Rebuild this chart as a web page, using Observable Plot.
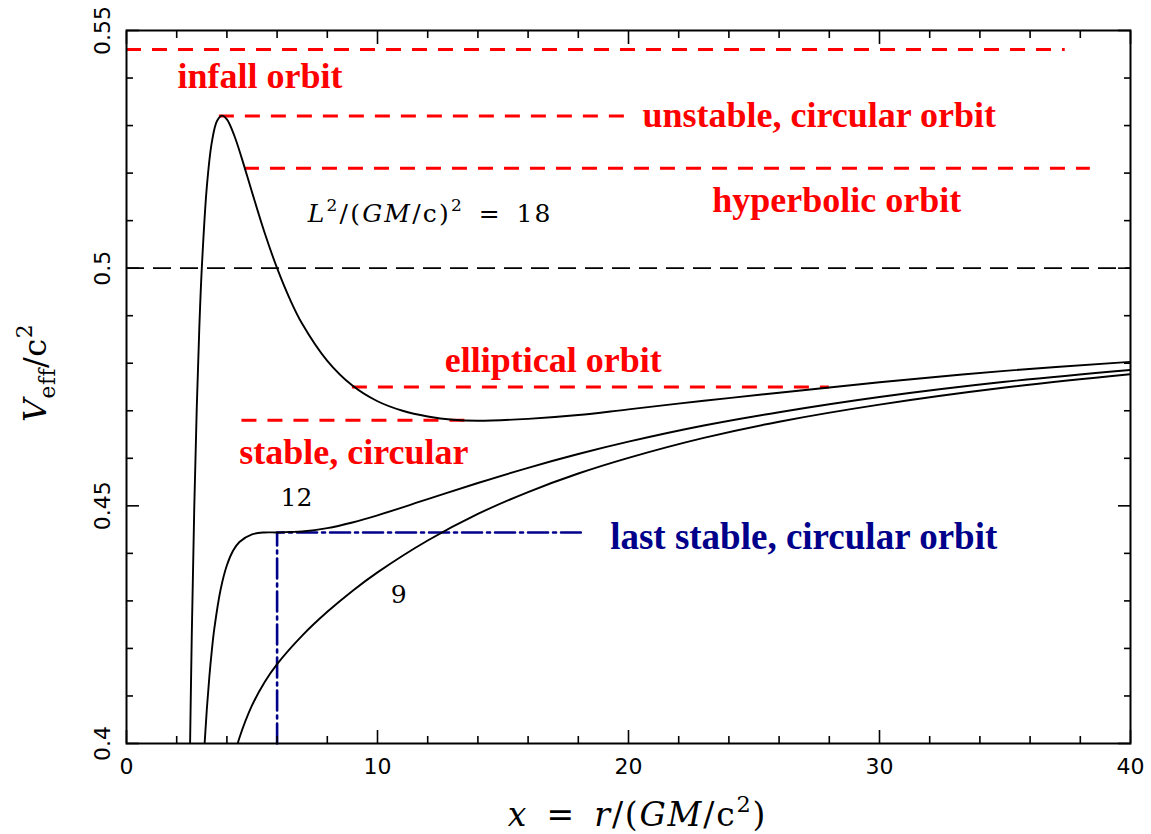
<!DOCTYPE html>
<html>
<head>
<meta charset="utf-8">
<script src="https://cdn.jsdelivr.net/npm/d3@7"></script>
<script src="https://cdn.jsdelivr.net/npm/@observablehq/plot@0.6"></script>
<style>
  body { margin: 0; background: #fff; }
  text { white-space: pre; }
</style>
</head>
<body>
<div id="chart"></div>
<script>
// ---- Effective potential curves ----
const x18 = [2.5, 2.6, 2.7, 2.8, 2.9, 3.0, 3.2, 3.4, 3.6, 3.8, 4.0, 4.3, 4.6, 5.0, 5.5, 6.0, 6.5, 7, 8, 9, 10, 11, 12, 13, 14, 16, 18, 20, 23, 26, 30, 35, 40];
const v18 = [0.388, 0.4226, 0.4497, 0.4708, 0.4873, 0.5000, 0.5171, 0.5265, 0.5309, 0.5321, 0.5313, 0.5278, 0.5230, 0.5160, 0.5075, 0.5000, 0.4936, 0.4883, 0.4805, 0.4753, 0.4720, 0.4700, 0.4688, 0.4681, 0.4679, 0.4683, 0.4691, 0.4703, 0.4721, 0.4738, 0.4760, 0.4784, 0.4803];

const x12 = [3.0, 3.1, 3.2, 3.3, 3.4, 3.5, 3.75, 4.0, 4.25, 4.5, 5.0, 5.5, 6.0, 6.5, 7, 8, 9, 10, 12, 14, 16, 18, 20, 23, 26, 30, 35, 40];
const v12 = [0.3889, 0.3990, 0.4072, 0.4140, 0.4196, 0.4242, 0.4324, 0.4375, 0.4406, 0.4424, 0.4440, 0.4444, 0.4444, 0.4445, 0.4446, 0.4453, 0.4465, 0.4480, 0.4514, 0.4548, 0.4580, 0.4609, 0.4635, 0.4669, 0.4697, 0.4729, 0.4761, 0.4786];

const x9 = [4.2, 4.5, 5, 5.5, 6, 7, 8, 9, 10, 12, 14, 16, 18, 20, 23, 26, 30, 35, 40];
const v9 = [0.3955, 0.4012, 0.4080, 0.4129, 0.4167, 0.4227, 0.4277, 0.4321, 0.4360, 0.4427, 0.4483, 0.4529, 0.4568, 0.4601, 0.4643, 0.4677, 0.4713, 0.4749, 0.4777];

// ---- Orbit energy levels (red dashed) ----
const levelNames = ["infall", "unstable circular", "hyperbolic", "elliptical", "stable circular"];
const levelV  = [0.546, 0.532, 0.521, 0.475, 0.468];
const levelX1 = [0, 3.7, 4.7, 9.0, 4.6];
const levelX2 = [37.4, 20.0, 38.4, 28.0, 13.9];

// rest-mass level (black dashed)
const restV = [0.5];

// last stable circular orbit (blue dash-dot)
const lscoX = [6, 6, 18.1];
const lscoV = [0.4, 0.4444, 0.4444];

// ---- Labels ----
const redText = ["infall orbit", "unstable, circular orbit", "hyperbolic orbit", "elliptical orbit", "stable, circular"];
const redX = [5.32, 27.6, 28.3, 17.0, 9.06];
const redV = [0.5380, 0.5298, 0.5118, 0.4781, 0.4588];

const blueText = ["last stable, circular orbit"];
const blueX = [26.98];
const blueV = [0.4410];

const curveText = ["L²/(GM/c)² = 18", "12", "9"];
const curveX = [12.1, 6.77, 10.84];
const curveV = [0.5098, 0.4499, 0.4295];

// ---- Ticks ----
const xMajor = [0, 10, 20, 30, 40];
const xMinor = [2, 4, 6, 8, 12, 14, 16, 18, 22, 24, 26, 28, 32, 34, 36, 38];
const yMajor = [0.4, 0.45, 0.5, 0.55];
const yMinor = [0.41, 0.42, 0.43, 0.44, 0.46, 0.47, 0.48, 0.49, 0.51, 0.52, 0.53, 0.54];
const yMajorLabels = ["0.4", "0.45", "0.5", "0.55"];

const xLabel = "x = r/(GM/c²)";
const yLabel = "Veff/c²";

// ---- Tables built from the arrays ----
const curves = [
  ...x18.map((x, i) => ({x, v: v18[i], L: "18"})),
  ...x12.map((x, i) => ({x, v: v12[i], L: "12"})),
  ...x9.map((x, i) => ({x, v: v9[i], L: "9"}))
];
const levels = levelNames.map((n, i) => ({n, v: levelV[i], x1: levelX1[i], x2: levelX2[i]}));
const lsco = lscoX.map((x, i) => ({x, v: lscoV[i]}));
const reds = redText.map((t, i) => ({t, x: redX[i], v: redV[i]}));
const blues = blueText.map((t, i) => ({t, x: blueX[i], v: blueV[i]}));
const curveLabels = curveText.map((t, i) => ({t, x: curveX[i], v: curveV[i]}));

const serif = "'Liberation Serif', 'Times New Roman', serif";
const mathFont = "'DejaVu Serif', serif";
const tickFont = "'DejaVu Sans', sans-serif";

const plot = Plot.plot({
  width: 1151,
  height: 834,
  marginLeft: 126,
  marginRight: 21,
  marginTop: 30,
  marginBottom: 91,
  x: {domain: [0, 40]},
  y: {domain: [0.4, 0.55]},
  style: {background: "white", overflow: "visible"},
  marks: [
    // rest-mass line
    Plot.ruleY(restV, {y: d => d, stroke: "black", strokeWidth: 1.6, strokeDasharray: "18,9"}),
    // orbit levels
    Plot.ruleY(levels, {y: "v", x1: "x1", x2: "x2", stroke: "#ff0000", strokeWidth: 3, strokeDasharray: "15,11"}),
    // LSCO
    Plot.line(lsco, {x: "x", y: "v", stroke: "#00008b", strokeWidth: 2.6, strokeDasharray: "20,5,3,5"}),
    // potential curves
    Plot.line(curves, {x: "x", y: "v", z: "L", curve: "catmull-rom", stroke: "black", strokeWidth: 1.9, clip: true}),
    // axes ticks (inward)
    Plot.axisX({anchor: "bottom", ticks: xMinor, tickSize: -7, tickFormat: () => "", label: null, strokeWidth: 1.6}),
    Plot.axisX({anchor: "bottom", ticks: xMajor, tickSize: -13, tickFormat: () => "", label: null, strokeWidth: 1.6}),
    Plot.axisX({anchor: "top", ticks: xMinor, tickSize: -7, tickFormat: () => "", label: null, strokeWidth: 1.6}),
    Plot.axisX({anchor: "top", ticks: xMajor, tickSize: -13, tickFormat: () => "", label: null, strokeWidth: 1.6}),
    Plot.axisY({anchor: "left", ticks: yMinor, tickSize: -7, tickFormat: () => "", label: null, strokeWidth: 1.6}),
    Plot.axisY({anchor: "left", ticks: yMajor, tickSize: -13, tickFormat: () => "", label: null, strokeWidth: 1.6}),
    Plot.axisY({anchor: "right", ticks: yMinor, tickSize: -7, tickFormat: () => "", label: null, strokeWidth: 1.6}),
    Plot.axisY({anchor: "right", ticks: yMajor, tickSize: -13, tickFormat: () => "", label: null, strokeWidth: 1.6}),
    Plot.frame({stroke: "black", strokeWidth: 2}),
    // tick labels
    Plot.text(xMajor, {x: d => d, frameAnchor: "bottom", dy: 23, text: d => String(d), textAnchor: "middle", lineAnchor: "middle", fontFamily: tickFont, fontSize: 22, fill: "black"}),
    Plot.text(yMajor, {y: d => d, frameAnchor: "left", dx: -24, text: (d, i) => yMajorLabels[i], rotate: -90, textAnchor: "middle", lineAnchor: "middle", fontFamily: tickFont, fontSize: 22, fill: "black"}),
    // red labels
    Plot.text(reds, {x: "x", y: "v", text: "t", lineAnchor: "bottom", fill: "#ff0000", fontWeight: "bold", fontFamily: serif, fontSize: 36}),
    // blue label
    Plot.text(blues, {x: "x", y: "v", text: "t", lineAnchor: "bottom", fill: "#00008b", fontWeight: "bold", fontFamily: serif, fontSize: 37}),
    // curve labels
    Plot.text(curveLabels, {x: "x", y: "v", text: "t", lineAnchor: "bottom", fill: "black", fontFamily: mathFont, fontSize: 25}),
    // axis titles
    Plot.text([xLabel], {frameAnchor: "bottom", dx: 9, dy: 82, text: d => d, textAnchor: "middle", lineAnchor: "bottom", fill: "black", fontFamily: mathFont, fontSize: 33}),
    Plot.text([yLabel], {frameAnchor: "left", dx: -81, dy: -14, text: d => d, rotate: -90, textAnchor: "middle", lineAnchor: "bottom", fill: "black", fontFamily: mathFont, fontSize: 32})
  ]
});

document.getElementById("chart").appendChild(plot);

// ---- rich formatting (italic / super / subscripts) ----
function rich(el, segs, F, spacing) {
  const sel = d3.select(el);
  sel.text(null);
  if (spacing) sel.attr("letter-spacing", spacing);
  let shift = 0;
  for (const [t, kind] of segs) {
    const target = kind === "sup" ? -0.42 * F : kind === "sub" ? 0.3 * F : 0;
    const ts = sel.append("tspan").attr("dy", target - shift).text(t);
    shift = target;
    if (kind === "i") ts.attr("font-style", "italic");
    if (kind === "sup" || kind === "sub") ts.attr("font-size", 0.68 * F);
  }
}
const svg = d3.select(plot);
svg.selectAll("text").each(function () {
  const s = this.textContent;
  if (s === curveText[0]) {
    rich(this, [["L", "i"], ["2", "sup"], ["/(", "n"], ["GM", "i"], ["/c)", "n"], ["2", "sup"], ["\u2002=\u200218", "n"]], 25, 2.2);
  } else if (s === xLabel) {
    rich(this, [["x", "i"], ["\u2002=\u2002", "n"], ["r", "i"], ["/(", "n"], ["GM", "i"], ["/c", "n"], ["2", "sup"], [")", "n"]], 33, 1.8);
  } else if (s === yLabel) {
    rich(this, [["V", "i"], ["eff", "sub"], ["/c", "n"], ["2", "sup"]], 32, 0.5);
  }
});
</script>
</body>
</html>
